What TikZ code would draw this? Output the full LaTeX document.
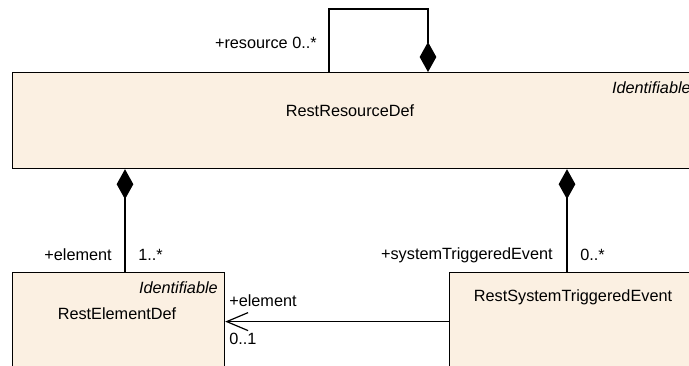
\documentclass[tikz,border=0pt]{standalone}
\usepackage{fontspec}
\setmainfont{Liberation Sans}
\usetikzlibrary{arrows.meta}
\definecolor{clsfill}{RGB}{251,240,226}
\tikzset{
  cls/.style={draw=black, line width=0.9pt, fill=clsfill, anchor=north west, inner sep=0pt},
  lbl/.style={font=\fontsize{12.2}{14}\selectfont, inner sep=0pt},
  ital/.style={lbl, font=\fontsize{12.2}{14}\selectfont\itshape},
  comp/.style={line width=0.9pt, -{Diamond[length=22.5pt,width=12.5pt]}},
  nav/.style={line width=0.9pt, -{Straight Barb[length=16pt,width=13.5pt,line width=0.9pt]}},
}
\begin{document}
\begin{tikzpicture}[x=0.75pt,y=-0.75pt]
\useasboundingbox (0,0) rectangle (689,365);
\clip (0,0) rectangle (689,365);
% classes
\node[cls, minimum width=516pt, minimum height=72pt] (rrd) at (12,72) {};
\node[cls, minimum width=159pt, minimum height=73.5pt] (red) at (12,272) {};
\node[cls, minimum width=195pt, minimum height=73.5pt] (rste) at (449,272) {};
% class texts
\node[ital, anchor=east] (rrdst) at (691,88) {Identifiable};
\node[lbl] (rrdname) at (350,111) {RestResourceDef};
\node[ital, anchor=east] (redst) at (218,288) {Identifiable};
\node[lbl] (redname) at (117,314) {RestElementDef};
\node[lbl] (rstename) at (573,297) {RestSystemTriggeredEvent};
% connectors
\draw[comp] (329,0 |- rrd.north) -- (329,9) -| (428,0 |- rrd.north);
\draw[comp] (125,0 |- red.north) -- (125,0 |- rrd.south);
\draw[comp] (567,0 |- rste.north) -- (567,0 |- rrd.south);
\draw[nav] (rste.west) -- (rste.west -| red.east);
% role labels
\node[lbl, anchor=east] (l1) at (317,43) {+resource 0..*};
\node[lbl, anchor=east] (l2) at (112,255) {+element};
\node[lbl, anchor=west] (l3) at (138,255) {1..*};
\node[lbl, anchor=east] (l4) at (553,255) {+systemTriggeredEvent};
\node[lbl, anchor=west] (l5) at (580,255) {0..*};
\node[lbl, anchor=west] (l6) at (229,301) {+element};
\node[lbl, anchor=west] (l7) at (229,339) {0..1};
\end{tikzpicture}
\end{document}
